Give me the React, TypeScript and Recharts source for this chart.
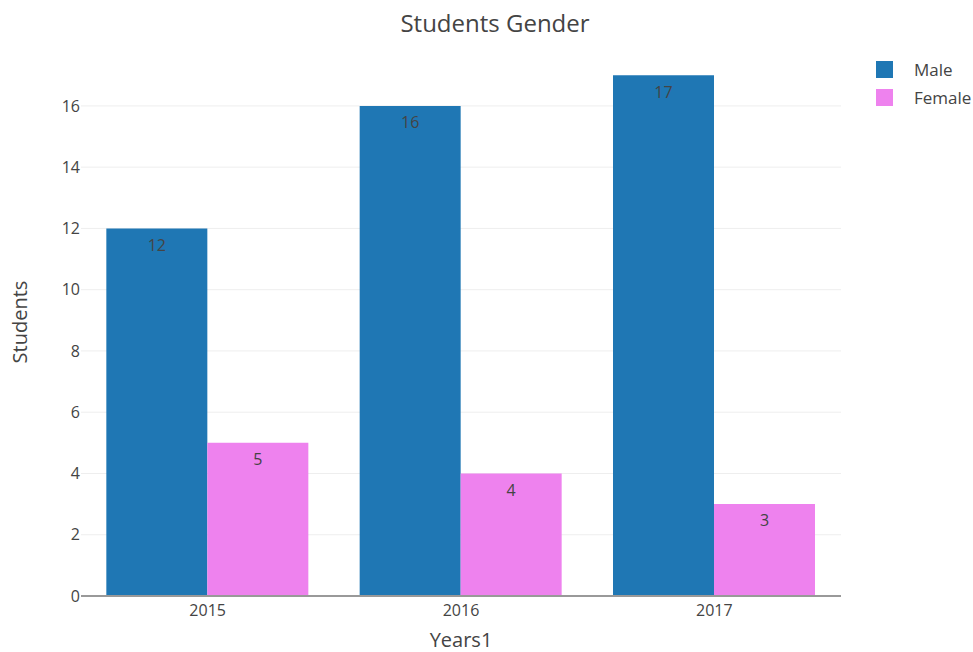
import React from 'react';
import {
  BarChart,
  Bar,
  XAxis,
  YAxis,
  CartesianGrid,
  LabelList,
  Label,
  ReferenceLine,
} from 'recharts';

const YEARS = ['2015', '2016', '2017'];
const MALE = [12, 16, 17];
const FEMALE = [5, 4, 3];
const Y_TICKS = [0, 2, 4, 6, 8, 10, 12, 14, 16];

const FONT = '"Open Sans", sans-serif';
const TEXT = '#444';

const data = YEARS.map((year, i) => ({ year, male: MALE[i], female: FEMALE[i] }));

const SERIES = [
  { key: 'male', name: 'Male', color: '#1f77b4' },
  { key: 'female', name: 'Female', color: '#ee82ee' },
];

// legend sits outside the plot area, so it is laid over the svg
function LegendBox() {
  return (
    <div style={{ position: 'absolute', left: 876, top: 55, fontSize: 17, color: TEXT }}>
      {SERIES.map((s) => (
        <div key={s.key} style={{ display: 'flex', alignItems: 'center', height: 28 }}>
          <span
            style={{ width: 17, height: 17, background: s.color, display: 'inline-block', marginRight: 21 }}
          />
          {s.name}
        </div>
      ))}
    </div>
  );
}

export default function App() {
  return (
    <div style={{ position: 'fixed', left: 0, top: 0, width: 973, height: 652, background: '#fff', fontFamily: FONT }}>
      <div
        style={{
          position: 'absolute',
          top: 6,
          left: 0,
          width: 990,
          textAlign: 'center',
          fontSize: 24,
          color: TEXT,
        }}
      >
        Students Gender
      </div>
      <BarChart
        width={973}
        height={652}
        data={data}
        margin={{ top: 48, right: 132, bottom: 0, left: 0 }}
        barCategoryGap="10%"
        barGap={0}
      >
        <CartesianGrid vertical={false} stroke="#eee" strokeWidth={1} horizontalValues={Y_TICKS.slice(1)} />
        <XAxis
          dataKey="year"
          height={56}
          axisLine={false}
          tickLine={false}
          tickSize={0}
          tickMargin={9}
          tick={{ fill: TEXT, fontSize: 16, fontFamily: FONT }}
        >
          <Label value="Years1" position="insideBottom" offset={5} fill={TEXT} fontSize={20} fontFamily={FONT} />
        </XAxis>
        <YAxis
          width={81}
          domain={[0, 17.89]}
          ticks={Y_TICKS}
          axisLine={false}
          tickLine={false}
          tickSize={0}
          tickMargin={1}
          tick={{ fill: TEXT, fontSize: 16, fontFamily: FONT }}
        >
          <Label
            value="Students"
            angle={-90}
            position="insideLeft"
            offset={20}
            style={{ textAnchor: 'middle' }}
            fill={TEXT}
            fontSize={20}
            fontFamily={FONT}
          />
        </YAxis>
        {SERIES.map((s) => (
          <Bar key={s.key} dataKey={s.key} name={s.name} fill={s.color} isAnimationActive={false}>
            <LabelList
              dataKey={s.key}
              position="insideTop"
              offset={11}
              fill={TEXT}
              fontSize={16}
              fontFamily={FONT}
            />
          </Bar>
        ))}
        <ReferenceLine y={0} stroke="#999" strokeWidth={2} />
      </BarChart>
      <LegendBox />
    </div>
  );
}
